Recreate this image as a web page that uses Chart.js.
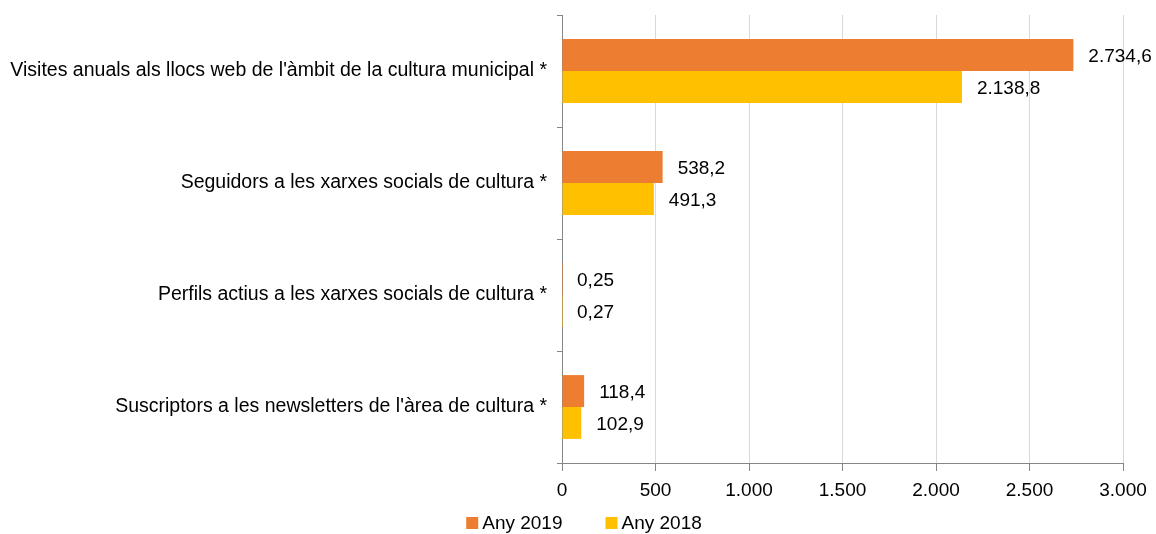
<!DOCTYPE html>
<html>
<head>
<meta charset="utf-8">
<script src="https://cdn.jsdelivr.net/npm/chart.js@4/dist/chart.umd.min.js"></script>
<style>
  html, body { margin: 0; padding: 0; background: #fff; }
  #wrap { width: 1156px; height: 534px; }
</style>
</head>
<body>
<div id="wrap"><canvas id="chart"></canvas></div>
<script>
// Data
var categories = [
    "Visites anuals als llocs web de l'àmbit de la cultura municipal *",
    'Seguidors a les xarxes socials de cultura *',
    'Perfils actius a les xarxes socials de cultura *',
    "Suscriptors a les newsletters de l'àrea de cultura *"
];
var any2019 = [2734.6, 538.2, 0.25, 118.4];
var any2018 = [2138.8, 491.3, 0.27, 102.9];
var seriesNames = ['Any 2019', 'Any 2018'];
var seriesColors = ['#ED7D31', '#FFC000'];

var FONT = '19px "Liberation Sans", Arial, sans-serif';

// number format 1.234,5
function fmt(v) {
    var parts = String(v).split('.');
    var ints = parts[0].replace(/\B(?=(\d{3})+(?!\d))/g, '.');
    return parts.length > 1 ? ints + ',' + parts[1] : ints;
}

// Labels at the end of each bar
var barLabels = {
    id: 'barLabels',
    afterDatasetsDraw: function(chart) {
        var ctx = chart.ctx;
        ctx.save();
        ctx.font = FONT;
        ctx.fillStyle = '#000';
        ctx.textAlign = 'left';
        ctx.textBaseline = 'middle';
        chart.data.datasets.forEach(function(ds, i) {
            chart.getDatasetMeta(i).data.forEach(function(bar, j) {
                ctx.fillText(fmt(ds.data[j]), bar.x + 15, bar.y + 2);
            });
        });
        ctx.restore();
    }
};

// Legend drawn by hand (tight box/text spacing like the original)
var bottomLegend = {
    id: 'bottomLegend',
    afterDraw: function(chart) {
        var ctx = chart.ctx;
        var box = 12, gapText = 4, gapItem = 43;
        ctx.save();
        ctx.font = FONT;
        ctx.textBaseline = 'middle';
        ctx.textAlign = 'left';
        var widths = chart.data.datasets.map(function(ds) {
            return box + gapText + ctx.measureText(ds.label).width;
        });
        var total = widths.reduce(function(a, b) { return a + b; }, 0) + gapItem * (widths.length - 1);
        var x = chart.width / 2 + 6 - total / 2;
        var y = 523;
        chart.data.datasets.forEach(function(ds, i) {
            ctx.fillStyle = ds.backgroundColor;
            ctx.fillRect(x, y - box / 2, box, box);
            ctx.fillStyle = '#000';
            ctx.fillText(ds.label, x + box + gapText, y + 1);
            x += widths[i] + gapItem;
        });
        ctx.restore();
    }
};

Chart.defaults.font.family = '"Liberation Sans", Arial, sans-serif';
Chart.defaults.font.size = 19;
Chart.defaults.color = '#000';

new Chart(document.getElementById('chart'), {
    type: 'bar',
    data: {
        labels: categories,
        datasets: [{
            label: seriesNames[0],
            data: any2019,
            backgroundColor: seriesColors[0]
        }, {
            label: seriesNames[1],
            data: any2018,
            backgroundColor: seriesColors[1]
        }]
    },
    options: {
        indexAxis: 'y',
        responsive: true,
        maintainAspectRatio: false,
        animation: false,
        categoryPercentage: 0.57,
        barPercentage: 1.0,
        layout: { padding: { top: 15, right: 33, left: 0, bottom: 0 } },
        scales: {
            x: {
                min: 0,
                max: 3000,
                ticks: {
                    stepSize: 500,
                    padding: 8,
                    callback: function(v) { return fmt(v); }
                },
                grid: {
                    color: '#d9d9d9',
                    tickColor: '#868686',
                    tickLength: 8
                },
                border: { color: '#868686' },
                afterFit: function(s) { s.height = 71; }
            },
            y: {
                ticks: { padding: 10, font: { size: 19.5 } },
                grid: {
                    offset: true,
                    drawOnChartArea: false,
                    color: '#868686',
                    tickLength: 5
                },
                border: { color: '#868686' },
                afterFit: function(s) {
                    s.width = 562;
                    s.paddingTop = 0;
                    s.paddingBottom = 0;
                }
            }
        },
        plugins: {
            legend: { display: false },
            tooltip: { enabled: false }
        }
    },
    plugins: [barLabels, bottomLegend]
});
</script>
</body>
</html>
